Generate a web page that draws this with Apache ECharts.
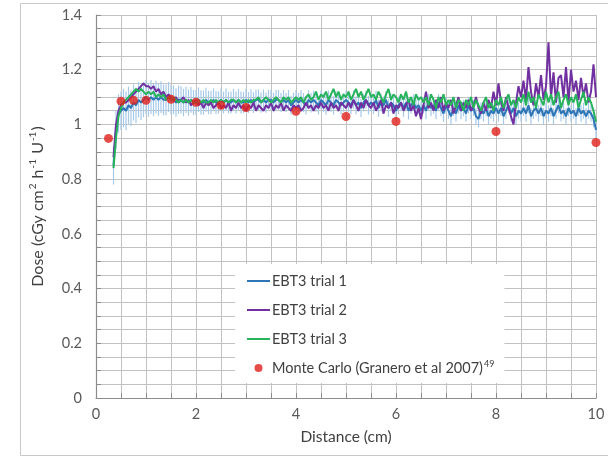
<!DOCTYPE html>
<html>
<head>
<meta charset="utf-8">
<script src="https://cdn.jsdelivr.net/npm/echarts@6/dist/echarts.min.js"></script>
<style>html,body{margin:0;padding:0;background:#fff}#c{width:608px;height:459px}</style>
</head>
<body>
<div id="c"></div>
<script>
// sampling grid of the film measurements (cm)
const distStart = 0.35, distStep = 0.05, distCount = 194;

const trial1 = [
0.85,0.98,1.04,1.05,
1.06,1.05,1.07,1.06,1.08,1.07,1.09,1.08,1.09,1.10,
1.09,1.10,1.09,1.10,1.09,1.10,1.09,1.09,1.10,1.09,
1.09,1.08,1.09,1.09,1.08,1.09,1.08,1.09,1.08,1.08,
1.09,1.08,1.08,1.09,1.08,1.08,1.09,1.08,1.08,1.09,
1.08,1.09,1.08,1.08,1.09,1.08,1.09,1.08,1.08,1.09,
1.08,1.09,1.08,1.09,1.09,1.08,1.09,1.08,1.09,1.09,
1.08,1.09,1.09,1.08,1.09,1.08,1.09,1.07,1.08,1.09,
1.08,1.09,1.08,1.07,1.09,1.08,1.09,1.08,1.07,1.09,
1.08,1.07,1.09,1.08,1.07,1.09,1.08,1.07,1.08,1.09,
1.08,1.07,1.09,1.07,1.08,1.06,1.08,1.09,1.07,1.08,
1.07,1.09,1.06,1.08,1.07,1.09,1.06,1.08,1.07,1.05,
1.07,1.08,1.06,1.08,1.05,1.07,1.08,1.06,1.07,1.05,
1.07,1.05,1.08,1.06,1.07,1.05,1.08,1.06,1.04,1.07,
1.05,1.03,1.06,1.04,1.07,1.05,1.06,1.04,1.07,1.05,
1.06,1.03,1.02,1.05,1.04,1.06,1.03,1.05,1.04,1.06,
1.04,1.06,1.03,1.05,1.07,1.04,1.06,1.03,1.05,1.04,
1.06,1.04,1.07,1.03,1.05,1.06,1.04,1.06,1.03,1.05,
1.04,1.06,1.03,1.05,1.07,1.04,1.05,1.03,1.06,1.04,
1.05,1.03,1.06,1.04,1.05,1.03,1.05,1.04,1.02,0.98
];

const trial1Err = [
0.07,0.07,0.07,0.07,
0.07,0.07,0.068,0.066,0.066,0.065,0.065,0.064,0.064,0.063,
0.062,0.062,0.06,0.06,0.058,0.058,0.056,0.056,0.055,0.054,
0.053,0.052,0.052,0.05,0.05,0.048,0.048,0.047,0.046,0.046,
0.045,0.045,0.044,0.044,0.043,0.043,0.042,0.042,0.041,0.041,
0.04,0.041,0.04,0.039,0.04,0.04,0.039,0.04,0.039,0.04,
0.038,0.039,0.038,0.037,0.038,0.037,0.038,0.037,0.036,0.037,
0.036,0.037,0.036,0.035,0.036,0.035,0.036,0.035,0.036,0.035,
0.035,0.036,0.035,0.034,0.035,0.036,0.034,0.035,0.034,0.035,
0.034,0.035,0.034,0.035,0.034,0.033,0.034,0.035,0.034,0.033,
0.034,0.033,0.034,0.033,0.034,0.033,0.032,0.033,0.034,0.033,
0.032,0.033,0.032,0.033,0.032,0.031,0.032,0.033,0.032,0.031,
0.032,0.031,0.032,0.031,0.032,0.031,0.03,0.031,0.032,0.031,
0.03,0.031,0.032,0.03,0.031,0.03,0.031,0.03,0.031,0.03,
0.03,0.031,0.03,0.029,0.03,0.031,0.03,0.029,0.03,0.03,
0.029,0.03,0.031,0.03,0.029,0.03,0.03,0.029,0.03,0.029,
0.03,0.029,0.03,0.03,0.029,0.03,0.029,0.03,0.029,0.03,
0.029,0.03,0.029,0.03,0.029,0.03,0.03,0.029,0.03,0.029,
0.03,0.029,0.03,0.029,0.03,0.029,0.03,0.029,0.03,0.03,
0.029,0.03,0.029,0.03,0.029,0.03,0.029,0.03,0.03,0.03
];

const trial2 = [
0.88,1.00,1.05,1.07,
1.08,1.08,1.09,1.10,1.11,1.12,1.13,1.14,1.15,1.14,
1.14,1.13,1.14,1.12,1.13,1.11,1.12,1.10,1.11,1.10,
1.09,1.10,1.08,1.09,1.10,1.08,1.09,1.07,1.08,1.09,
1.07,1.08,1.06,1.08,1.07,1.08,1.06,1.07,1.08,1.06,
1.07,1.06,1.08,1.05,1.07,1.06,1.08,1.06,1.07,1.05,
1.07,1.06,1.08,1.05,1.07,1.06,1.05,1.07,1.06,1.08,
1.05,1.07,1.06,1.08,1.05,1.07,1.06,1.05,1.07,1.06,
1.07,1.05,1.06,1.08,1.06,1.07,1.05,1.07,1.06,1.08,
1.06,1.07,1.05,1.08,1.06,1.07,1.05,1.08,1.07,1.06,
1.08,1.06,1.09,1.07,1.05,1.08,1.06,1.09,1.07,1.06,
1.08,1.05,1.07,1.09,1.04,1.07,1.06,1.08,1.04,1.07,
1.06,1.08,1.05,1.07,1.09,1.05,1.07,1.03,1.06,1.02,
1.07,1.12,1.06,1.08,1.05,1.09,1.06,1.10,1.05,1.08,
1.06,1.09,1.04,1.07,1.10,1.05,1.08,1.06,1.09,1.05,
1.07,1.10,1.06,1.04,1.08,1.05,1.09,1.06,1.12,1.07,
1.15,1.08,1.05,1.10,1.06,1.03,1.00,1.08,1.14,1.10,
1.16,1.09,1.21,1.12,1.07,1.15,1.10,1.18,1.09,1.14,
1.30,1.10,1.19,1.08,1.17,1.18,1.10,1.21,1.08,1.20,
1.12,1.16,1.09,1.17,1.10,1.15,1.08,1.12,1.22,1.10
];

const trial3 = [
0.84,0.95,1.03,1.06,
1.08,1.09,1.10,1.11,1.12,1.13,1.12,1.13,1.12,1.11,
1.12,1.11,1.12,1.10,1.11,1.10,1.11,1.09,1.10,1.09,
1.10,1.09,1.08,1.09,1.08,1.09,1.08,1.09,1.08,1.08,
1.09,1.08,1.09,1.08,1.08,1.09,1.08,1.09,1.08,1.09,
1.08,1.09,1.08,1.09,1.09,1.08,1.09,1.08,1.09,1.08,
1.09,1.08,1.09,1.09,1.10,1.08,1.09,1.10,1.09,1.08,
1.09,1.10,1.09,1.08,1.10,1.09,1.10,1.08,1.09,1.10,
1.09,1.10,1.08,1.10,1.11,1.09,1.10,1.12,1.09,1.11,
1.10,1.12,1.09,1.11,1.13,1.10,1.12,1.09,1.11,1.10,
1.12,1.09,1.11,1.13,1.10,1.12,1.09,1.11,1.13,1.10,
1.11,1.09,1.12,1.10,1.08,1.11,1.13,1.09,1.11,1.10,
1.08,1.11,1.09,1.12,1.08,1.10,1.07,1.11,1.09,1.10,
1.08,1.10,1.07,1.11,1.09,1.06,1.10,1.08,1.11,1.07,
1.09,1.07,1.10,1.06,1.09,1.08,1.05,1.09,1.07,1.10,
1.06,1.09,1.07,1.05,1.08,1.10,1.06,1.08,1.05,1.09,
1.07,1.10,1.06,1.09,1.11,1.07,1.09,1.06,1.10,1.08,
1.11,1.07,1.12,1.08,1.10,1.06,1.11,1.09,1.07,1.12,
1.08,1.11,1.07,1.10,1.12,1.06,1.09,1.11,1.07,1.10,
1.08,1.11,1.06,1.09,1.12,1.07,1.10,1.08,1.05,1.01
];

const mcDistance = [0.25, 0.5, 0.75, 1.0, 1.5, 2.0, 2.5, 3.0, 4.0, 5.0, 6.0, 8.0, 10.0];
const mcDose     = [0.949, 1.085, 1.088, 1.088, 1.092, 1.081, 1.07, 1.062, 1.048, 1.029, 1.011, 0.974, 0.934];

const seriesNames = ['EBT3 trial 1', 'EBT3 trial 2', 'EBT3 trial 3', 'Monte Carlo (Granero et al 2007)'];
const mcSuperscript = '49';
const xTickLabels = [0, 2, 4, 6, 8, 10];
const yTickLabels = ['0', '0.2', '0.4', '0.6', '0.8', '1', '1.2', '1.4'];
const xTitle = 'Distance (cm)';

const dist = [];
for (let i = 0; i < distCount; i++) dist.push(+(distStart + distStep * i).toFixed(2));
const pairs = arr => arr.map((v, i) => [dist[i], v]);
const errData = trial1.map((v, i) => [dist[i], v - trial1Err[i], v + trial1Err[i]]);

const FONT = 'Lato, "Open Sans", "DejaVu Sans", sans-serif';
const LINE_ICON = 'path://M0,0L0,0.01M0,3L23,3L23,5L0,5ZM23,7.99L23,8';
const GRID_COLOR = '#c2c2c2';
const chart = echarts.init(document.getElementById('c'), null, {renderer: 'canvas'});
chart.setOption({
  animation: false,
  backgroundColor: '#ffffff',
  textStyle: {fontFamily: FONT},
  graphic: [{
    type: 'rect', z: -10, silent: true,
    shape: {x: 20.5, y: 3.5, width: 620, height: 452},
    style: {fill: 'none', stroke: '#c8c8c8', lineWidth: 1}
  }],
  grid: {left: 96, right: 12, top: 15, bottom: 61, containLabel: false},
  xAxis: {
    type: 'value', min: 0, max: 10, interval: 0.5,
    name: xTitle, nameLocation: 'middle', nameGap: 31,
    nameTextStyle: {fontSize: 15.5, color: '#404040', fontFamily: FONT},
    axisLine: {show: true, onZero: false, lineStyle: {color: '#8c8c8c', width: 1.2}},
    axisTick: {show: true, inside: true, length: 5, interval: 0, lineStyle: {color: '#8c8c8c'}},
    axisLabel: {fontSize: 14.5, color: '#595959', margin: 9, fontFamily: FONT, interval: 0, hideOverlap: false,
      formatter: v => {
        const r = Math.round(v * 100) / 100;
        return xTickLabels.indexOf(r) >= 0 ? String(r) : '';
      }},
    splitLine: {show: true, interval: 0, lineStyle: {color: GRID_COLOR, width: 1}}
  },
  yAxis: {
    type: 'value', min: 0, max: 1.4, interval: 0.05,
    name: '{t|Dose (cGy cm}{s|2}{t| h}{s|-1}{t| U}{s|-1}{t|)}', nameLocation: 'middle', nameGap: 49, nameRotate: 90,
    nameTextStyle: {fontSize: 16, color: '#404040', fontFamily: FONT,
      rich: {
        t: {fontSize: 16, color: '#404040', fontFamily: FONT, lineHeight: 19},
        s: {fontSize: 10, color: '#404040', fontFamily: FONT, lineHeight: 19, verticalAlign: 'top', padding: [0, 1, 7, 1]}
      }},
    axisLine: {show: true, lineStyle: {color: '#8c8c8c', width: 1.2}},
    axisTick: {show: true, inside: true, length: 5, interval: 0, lineStyle: {color: '#8c8c8c'}},
    axisLabel: {fontSize: 14.5, color: '#595959', margin: 14, fontFamily: FONT, interval: 0, hideOverlap: false,
      formatter: v => {
        const s = String(Math.round(v * 100) / 100);
        return yTickLabels.indexOf(s) >= 0 ? s : '';
      }},
    splitLine: {show: true, interval: 0, lineStyle: {color: GRID_COLOR, width: 1}}
  },
  legend: {
    orient: 'vertical', left: 235, top: 264,
    backgroundColor: '#ffffff',
    padding: [9, 10, 7, 12],
    itemWidth: 23, itemHeight: 8, itemGap: 13,
    data: [
      {name: seriesNames[0], icon: LINE_ICON},
      {name: seriesNames[1], icon: LINE_ICON},
      {name: seriesNames[2], icon: LINE_ICON},
      {name: seriesNames[3], icon: 'circle'}
    ],
    textStyle: {fontSize: 14.5, color: '#404040', fontFamily: FONT, lineHeight: 16, padding: [0, 0, 0, -3],
      rich: {
        t: {fontSize: 14.5, color: '#404040', fontFamily: FONT, lineHeight: 16},
        s: {fontSize: 9, color: '#404040', fontFamily: FONT, verticalAlign: 'top', lineHeight: 16, padding: [0, 0, 6, 1]}
      }},
    formatter: n => n === seriesNames[3] ? '{t|' + n + '}{s|' + mcSuperscript + '}' : n
  },
  series: [
    {
      name: 'trial1-error', type: 'custom', z: 1, silent: true,
      data: errData,
      encode: {x: 0, y: [1, 2]},
      renderItem: (params, api) => {
        const lo = api.coord([api.value(0), api.value(1)]);
        const hi = api.coord([api.value(0), api.value(2)]);
        return {type: 'line', shape: {x1: lo[0], y1: lo[1], x2: hi[0], y2: hi[1]},
          style: {stroke: '#a6c9ea', lineWidth: 1.2}};
      }
    },
    {name: seriesNames[0], type: 'line', data: pairs(trial1), symbol: 'none', z: 3,
      itemStyle: {color: '#2e75b6'}, lineStyle: {color: '#2e75b6', width: 2}},
    {name: seriesNames[1], type: 'line', data: pairs(trial2), symbol: 'none', z: 4,
      itemStyle: {color: '#7030a0'}, lineStyle: {color: '#7030a0', width: 2}},
    {name: seriesNames[2], type: 'line', data: pairs(trial3), symbol: 'none', z: 5,
      itemStyle: {color: '#26b35c'}, lineStyle: {color: '#26b35c', width: 2}},
    {name: seriesNames[3], type: 'scatter', z: 6,
      data: mcDistance.map((d, i) => [d, mcDose[i]]),
      symbol: 'circle', symbolSize: 9,
      itemStyle: {color: '#e0201c'}}
  ]
});
</script>
</body>
</html>
